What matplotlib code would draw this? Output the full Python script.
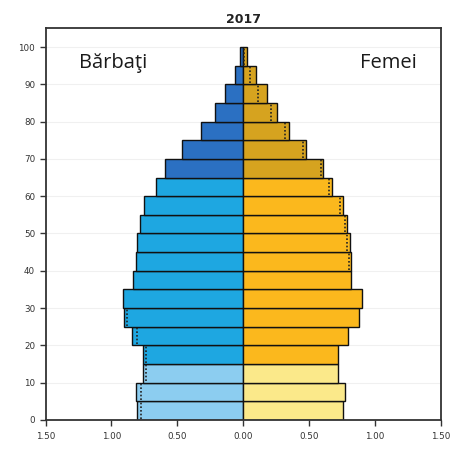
import matplotlib
matplotlib.use("Agg")
import matplotlib.pyplot as plt
import numpy as np

age_start = [0, 5, 10, 15, 20, 25, 30, 35, 40, 45, 50, 55, 60, 65, 70, 75, 80, 85, 90, 95]
males = [0.807, 0.817, 0.762, 0.762, 0.845, 0.906, 0.913, 0.838, 0.817, 0.804,
         0.787, 0.754, 0.665, 0.592, 0.463, 0.324, 0.218, 0.137, 0.066, 0.023]
females = [0.756, 0.769, 0.718, 0.718, 0.794, 0.875, 0.900, 0.819, 0.819, 0.807,
           0.789, 0.756, 0.675, 0.604, 0.478, 0.346, 0.258, 0.179, 0.093, 0.027]
males_prev = [0.774, 0.774, 0.736, 0.736, 0.807, 0.880, None, None, None, None,
              None, None, None, None, None, None, None, None, None, None]
females_prev = [None, None, None, None, None, None, None, None, 0.801, 0.786,
                0.769, 0.736, 0.647, 0.592, 0.452, 0.314, 0.212, 0.115, 0.053, 0.008]
xticks = [-1.5, -1.0, -0.5, 0.0, 0.5, 1.0, 1.5]
xticklabels = ["1.50", "1.00", "0.50", "0.00", "0.50", "1.00", "1.50"]
yticks = [0, 10, 20, 30, 40, 50, 60, 70, 80, 90, 100]

def male_color(a):
    if a < 15:
        return "#8ccdf0"
    if a < 65:
        return "#1ea7e1"
    return "#2b70c2"

def female_color(a):
    if a < 15:
        return "#fbe98a"
    if a < 65:
        return "#fbb81d"
    return "#d6a31f"

fig = plt.figure(figsize=(4.51, 4.51), dpi=100)
ax = fig.add_axes([0.101, 0.069, 0.877, 0.868])

ax.set_xlim(-1.5, 1.5)
ax.set_ylim(0, 105)

for yv in yticks[1:]:
    ax.axhline(yv, color="#f0f0f0", lw=0.8, zorder=0)

ages = np.array(age_start)
ax.barh(ages, -np.array(males), height=5, align="edge",
        color=[male_color(a) for a in age_start], edgecolor="#111111", linewidth=1.0, zorder=2)
ax.barh(ages, np.array(females), height=5, align="edge",
        color=[female_color(a) for a in age_start], edgecolor="#111111", linewidth=1.0, zorder=2)

for a, v in zip(age_start, males_prev):
    if v is not None:
        ax.vlines(-v, a + 0.3, a + 4.7, colors="#222222", linestyles=(0, (1, 1.2)), lw=1.2, zorder=3)
for a, v in zip(age_start, females_prev):
    if v is not None:
        ax.vlines(v, a + 0.3, a + 4.7, colors="#222222", linestyles=(0, (1, 1.2)), lw=1.2, zorder=3)

ax.set_xticks(xticks)
ax.set_xticklabels(xticklabels)
ax.set_yticks(yticks)
ax.tick_params(axis="both", labelsize=6.3, colors="#333333", length=4, width=1.0, direction="out")
ax.tick_params(axis="x", pad=5)
for s in ax.spines.values():
    s.set_color("#333333")
    s.set_linewidth(1.3)

ax.set_title("2017", fontsize=9, fontweight="bold", color="#222222", pad=4)

ax.text(0.085, 0.898, "Bărbaţi", transform=ax.transAxes, fontsize=14.5,
        family=["Open Sans", "DejaVu Sans"], color="#1a1a1a", va="baseline", ha="left",
        bbox=dict(facecolor="white", edgecolor="none", pad=2), zorder=5)
ax.text(0.938, 0.898, "Femei", transform=ax.transAxes, fontsize=14.5,
        family=["Open Sans", "DejaVu Sans"], color="#1a1a1a", va="baseline", ha="right",
        bbox=dict(facecolor="white", edgecolor="none", pad=2), zorder=5)

fig.savefig("out.png", dpi=100)
